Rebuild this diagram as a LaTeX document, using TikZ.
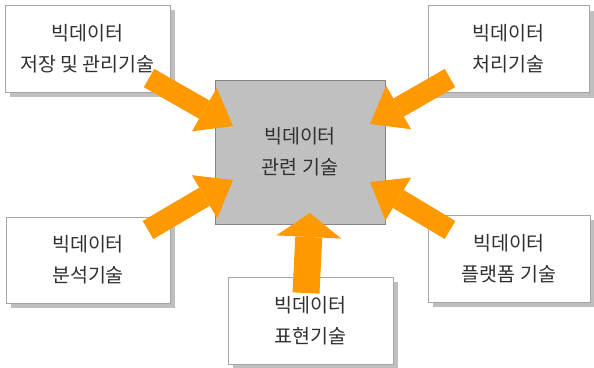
\documentclass[tikz,border=0pt]{standalone}
\usepackage{fontspec}
\newfontfamily\kr{Noto Sans CJK KR}
\usetikzlibrary{shadows,arrows.meta}
\definecolor{arroworange}{HTML}{FF9900}
\definecolor{boxborder}{HTML}{A6A6A6}
\definecolor{shadowgray}{HTML}{BFBFBF}
\definecolor{centerfill}{HTML}{C0C0C0}
\definecolor{textcol}{HTML}{303030}
\tikzset{
  techbox/.style={draw=boxborder, line width=0.8pt, fill=white, inner sep=0pt,
    minimum width=165pt, minimum height=87pt, align=center, text=textcol,
    font=\kr\fontsize{19.5}{31}\selectfont,
    drop shadow={shadow xshift=5pt, shadow yshift=-5pt, opacity=1, fill=shadowgray}},
  centerbox/.style={draw=boxborder!80!black, line width=0.8pt, fill=centerfill, inner sep=0pt,
    minimum width=170pt, minimum height=144pt, align=center, text=textcol,
    font=\kr\fontsize{19.5}{31}\selectfont},
  fatarrow/.style={draw=arroworange, line width=21pt,
    -{Triangle[width=50pt,length=33pt,line width=0pt]}},
  fatarrowup/.style={draw=arroworange, line width=27pt,
    -{Triangle[width=65pt,length=24pt,line width=0pt]}}
}
\begin{document}
\begin{tikzpicture}[x=1pt,y=-1pt]
\useasboundingbox (0,0) rectangle (594,367);
\node[centerbox] (core) at (300,152) {빅데이터\\관련 기술};
\node[techbox] (store) at (87.5,48.5) {빅데이터\\저장 및 관리기술};
\node[techbox, minimum width=161pt] (proc) at (508.5,49) {빅데이터\\처리기술};
\node[techbox, minimum width=164pt, minimum height=86pt] (anal) at (88,260) {빅데이터\\분석기술};
\node[techbox, minimum width=162pt] (plat) at (509,258.5) {빅데이터\\플랫폼 기술};
\node[techbox] (vis) at (310.5,320.5) {빅데이터\\표현기술};
% arrow ends
\coordinate (storeT) at (149,78);
\coordinate (storeH) at (233,126);
\coordinate (procT) at (450,78);
\coordinate (procH) at (370,124);
\coordinate (analT) at (148,230);
\coordinate (analH) at (233,180);
\coordinate (platT) at (450,230);
\coordinate (platH) at (370,182);
\coordinate (visT) at (306,293);
\coordinate (visH) at (310,213);
\draw[fatarrow] (storeT) -- (storeH);
\draw[fatarrow] (procT) -- (procH);
\draw[fatarrow] (analT) -- (analH);
\draw[fatarrow] (platT) -- (platH);
\draw[fatarrowup] (visT) -- (visH);
\end{tikzpicture}
\end{document}
